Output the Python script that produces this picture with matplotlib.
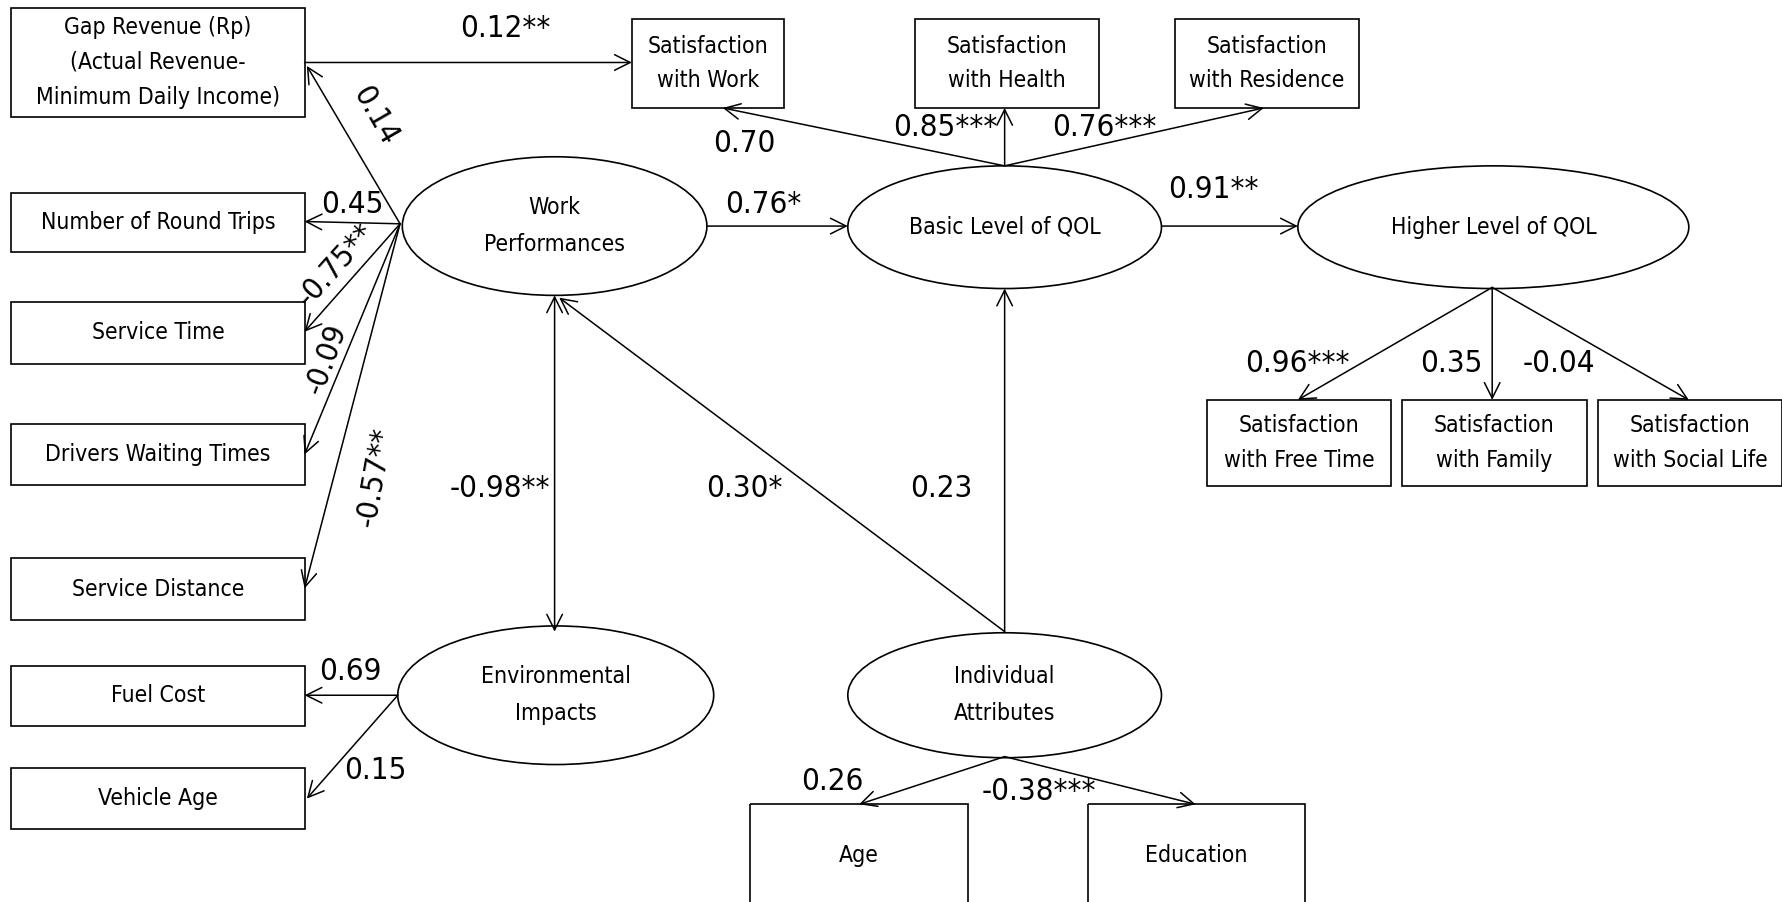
import matplotlib
matplotlib.use('Agg')
import matplotlib.pyplot as plt
from matplotlib.patches import Rectangle, Ellipse

plt.rcParams['font.family'] = ['Liberation Sans Narrow', 'DejaVu Sans']

# observed variables (boxes)
box_labels = ['Gap Revenue (Rp)\n(Actual Revenue-\nMinimum Daily Income)',
              'Satisfaction\nwith Work', 'Satisfaction\nwith Health', 'Satisfaction\nwith Residence',
              'Number of Round Trips', 'Service Time', 'Drivers Waiting Times', 'Service Distance',
              'Fuel Cost', 'Vehicle Age',
              'Satisfaction\nwith Free Time', 'Satisfaction\nwith Family', 'Satisfaction\nwith Social Life',
              'Age', 'Education']
# latent constructs (ellipses)
latent_labels = ['Work\nPerformances', 'Basic Level of QOL', 'Higher Level of QOL',
                 'Environmental\nImpacts', 'Individual\nAttributes']

# path coefficients
coef_labels = ['0.12**', '0.14', '0.45', '-0.75**', '-0.09', '-0.57**',
               '0.76*', '0.91**', '0.70', '0.85***', '0.76***',
               '0.96***', '0.35', '-0.04', '-0.98**', '0.30*', '0.23',
               '0.69', '0.15', '0.26', '-0.38***']

# layout (in 1568x794 drawing units): x0, y0, w, h
box_pos = [(10, 7, 258, 96),
           (556, 17, 134, 78), (805, 17, 162, 78), (1034, 17, 162, 78),
           (10, 170, 258, 52), (10, 266, 258, 54), (10, 373, 258, 54), (10, 491, 258, 55),
           (10, 586, 258, 53), (10, 676, 258, 54),
           (1062, 352, 162, 76), (1234, 352, 162, 76), (1406, 352, 162, 76),
           (660, 708, 192, 90), (957, 708, 191, 90)]
# cx, cy, w, h
latent_pos = [(488, 199, 268, 122), (884, 200, 276, 108), (1314, 200, 344, 108),
              (489, 612, 278, 122), (884, 612, 276, 110)]

# arrows: start, end, style, label position, rotation
paths = [((268, 55), (556, 55), '->', (445, 25), 0),
         ((352, 197), (270, 58), '->', (330, 102), -60),
         ((352, 197), (268, 195), '->', (310, 180), 0),
         ((352, 197), (268, 292), '->', (296, 233), 48),
         ((352, 197), (268, 400), '->', (287, 316), 70),
         ((352, 197), (268, 518), '->', (330, 420), 80),
         ((622, 199), (746, 199), '->', (672, 180), 0),
         ((1022, 199), (1142, 199), '->', (1068, 167), 0),
         ((884, 146), (636, 95), '->', (655, 126), 0),
         ((884, 146), (884, 95), '->', (832, 112), 0),
         ((884, 146), (1112, 95), '->', (972, 112), 0),
         ((1313, 253), (1142, 352), '->', (1142, 320), 0),
         ((1313, 253), (1313, 352), '->', (1277, 320), 0),
         ((1313, 253), (1486, 352), '->', (1372, 320), 0),
         ((488, 260), (488, 556), '<->', (440, 430), 0),
         ((884, 556), (492, 262), '->', (655, 430), 0),
         ((884, 556), (884, 254), '->', (828, 430), 0),
         ((350, 612), (268, 612), '->', (308, 591), 0),
         ((350, 612), (270, 703), '->', (330, 678), 0),
         ((884, 666), (756, 708), '->', (732, 688), 0),
         ((884, 666), (1052, 708), '->', (914, 697), 0)]

fig = plt.figure(figsize=(17.82, 9.02), dpi=100)
ax = fig.add_axes([0, 0, 1, 1])
ax.set_xlim(0, 1568)
ax.set_ylim(794, 0)
ax.axis('off')

for label, (x0, y0, w, h) in zip(box_labels, box_pos):
    ax.add_patch(Rectangle((x0, y0), w, h, fill=False, edgecolor='black', lw=1.2))
    ax.text(x0 + w / 2, y0 + h / 2, label, ha='center', va='center',
            fontsize=16.5, linespacing=1.65, stretch='condensed')

for label, (cx, cy, w, h) in zip(latent_labels, latent_pos):
    ax.add_patch(Ellipse((cx, cy), w, h, fill=False, edgecolor='black', lw=1.2))
    ax.text(cx, cy, label, ha='center', va='center', fontsize=16.5, linespacing=1.75,
            stretch='condensed')

for label, (start, end, style, lpos, rot) in zip(coef_labels, paths):
    ax.annotate('', xy=end, xytext=start,
                arrowprops=dict(arrowstyle=style, lw=1.1, color='black',
                                shrinkA=0, shrinkB=0, mutation_scale=28))
    ax.text(lpos[0], lpos[1], label, ha='center', va='center', fontsize=22.5, rotation=rot,
            stretch='condensed')

fig.savefig('out.png', dpi=100)
